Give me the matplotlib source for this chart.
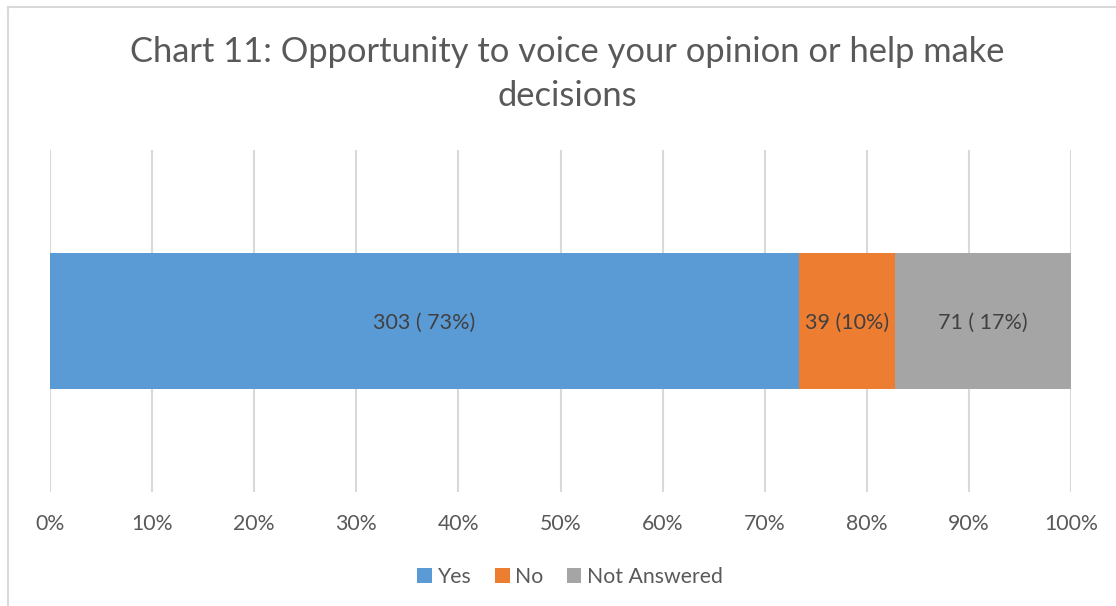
import matplotlib
matplotlib.use("Agg")
import matplotlib.pyplot as plt
from matplotlib.lines import Line2D
from matplotlib.patches import Patch

plt.rcParams['font.family'] = ['Lato', 'DejaVu Sans']

title = "Chart 11: Opportunity to voice your opinion or help make\ndecisions"
series_names = ["Yes", "No", "Not Answered"]
counts = [303, 39, 71]
bar_labels = ["303 ( 73%)", "39 (10%)", "71 ( 17%)"]
colors = ["#5B9BD5", "#ED7D31", "#A5A5A5"]
tick_values = [0, 10, 20, 30, 40, 50, 60, 70, 80, 90, 100]
tick_labels = [f"{v}%" for v in tick_values]

total = sum(counts)
shares = [c / total * 100 for c in counts]

fig = plt.figure(figsize=(11.16, 6.06), dpi=100)
ax = fig.add_axes([50 / 1116, 114 / 606, 1021 / 1116, 342 / 606])

left = 0
for name, share, label, color in zip(series_names, shares, bar_labels, colors):
    ax.barh(0, share, left=left, height=0.4, color=color, label=name, zorder=2)
    ax.text(left + share / 2, -0.005, label, ha="center", va="center",
            fontsize=15.5, color="#404040", zorder=3)
    left += share

ax.set_xlim(0, 100)
ax.set_ylim(-0.5, 0.5)
ax.set_xticks(tick_values)
ax.set_xticklabels(tick_labels, fontsize=15.3, color="#595959")
ax.tick_params(axis="x", length=0, pad=16)
ax.set_yticks([])
ax.grid(axis="x", color="#D9D9D9", linewidth=1.5, zorder=0)
for spine in ax.spines.values():
    spine.set_visible(False)

fig.text(567 / 1116, 1 - 74 / 606, title, ha="center", va="center",
         fontsize=24.8, color="#595959", linespacing=1.45)

handles = [Patch(facecolor=c, edgecolor="none") for c in colors]
fig.legend(handles, series_names, loc="center", bbox_to_anchor=(570 / 1116, 1 - 577 / 606),
           ncol=3, frameon=False, fontsize=15.3, labelcolor="#595959",
           handlelength=0.7, handleheight=0.7, handletextpad=0.25, columnspacing=1.1)

# chart frame
fig.add_artist(Line2D([7.5 / 1116, 7.5 / 1116], [0, 1 - 6.5 / 606],
                      transform=fig.transFigure, color="#D9D9D9", linewidth=1.5))
fig.add_artist(Line2D([7.5 / 1116, 1], [1 - 6.5 / 606, 1 - 6.5 / 606],
                      transform=fig.transFigure, color="#D9D9D9", linewidth=1.5))

fig.savefig("out.png", dpi=100)
